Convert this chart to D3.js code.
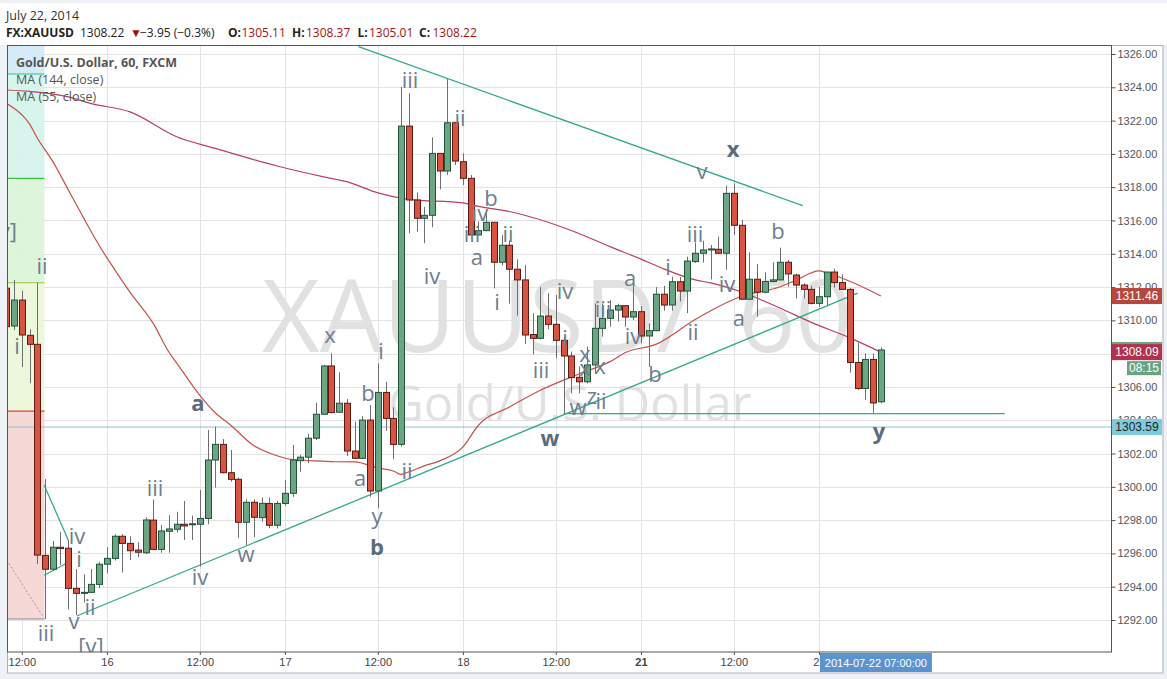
<!DOCTYPE html>
<html><head><meta charset="utf-8">
<script src="https://cdn.jsdelivr.net/npm/d3@7"></script>
<style>
body{margin:0;background:#eef2f6;}
svg{display:block;font-family:"Liberation Sans",Arial,sans-serif;}
</style>
</head><body>
<svg id="c" width="1167" height="679"></svg>
<script>
// ---------------- DATA ----------------
const opens=[1311.93,1309.66,1311.22,1309.10,1308.56,1295.88,1295.05,1296.37,1296.31,1293.90,
1293.60,1293.66,1294.14,1295.35,1295.70,1297.03,1296.60,1296.20,1296.04,1298.00,
1296.24,1297.33,1297.45,1297.75,1297.72,1297.75,1298.10,1301.61,1302.55,1300.85,
1300.45,1297.87,1299.07,1298.15,1299.00,1297.69,1299.00,1299.61,1301.57,1301.78,
1302.92,1304.36,1307.26,1304.48,1305.02,1302.15,1301.71,1304.01,1299.75,1305.67,
1304.11,1302.55,1321.67,1317.23,1316.13,1316.31,1320.03,1318.97,1321.87,1319.53,
1318.53,1315.13,1315.39,1315.89,1313.49,1314.51,1313.07,1312.43,1309.15,1308.92,
1310.26,1309.76,1308.80,1307.86,1306.58,1306.31,1307.32,1309.52,1310.12,1310.62,
1310.88,1310.20,1310.52,1309.06,1309.38,1311.57,1310.92,1312.32,1311.76,1313.53,
1314.03,1314.23,1314.27,1314.03,1317.63,1315.71,1311.27,1312.47,1311.69,1312.33,
1312.43,1313.49,1312.72,1312.12,1311.86,1311.02,1311.42,1312.90,1312.27,1311.86,
1307.47,1305.91,1307.65,1305.11];
const highs=[1312.10,1312.42,1311.78,1309.46,1312.26,1300.47,1296.75,1297.29,1296.80,1295.05,
1294.75,1295.06,1295.50,1296.37,1297.15,1297.15,1297.03,1296.67,1298.17,1299.23,
1297.71,1298.30,1298.50,1299.15,1298.27,1299.81,1303.41,1303.61,1302.87,1302.21,
1300.57,1299.25,1299.25,1299.35,1299.35,1299.15,1300.41,1302.51,1301.91,1303.18,
1305.06,1307.32,1308.02,1306.88,1305.27,1303.91,1304.25,1304.91,1307.42,1306.31,
1304.78,1324.02,1323.64,1317.69,1316.81,1321.00,1320.05,1324.50,1321.90,1320.03,
1318.73,1315.93,1316.50,1315.90,1315.13,1314.80,1313.67,1313.33,1310.43,1312.00,
1311.63,1311.52,1309.00,1308.13,1307.22,1308.42,1311.01,1311.00,1311.22,1311.00,
1310.90,1312.60,1310.86,1309.82,1312.00,1312.07,1312.63,1312.60,1313.82,1314.68,
1314.78,1314.53,1315.03,1318.09,1318.23,1316.03,1314.09,1313.39,1312.89,1313.49,
1314.37,1313.63,1312.80,1312.22,1312.07,1312.02,1312.92,1313.10,1312.77,1311.94,
1308.66,1308.02,1308.02,1308.37];
const lows=[1309.40,1309.42,1307.20,1306.22,1295.36,1292.06,1295.00,1295.30,1292.63,1292.30,
1293.06,1293.62,1293.92,1294.80,1295.57,1294.85,1295.60,1295.76,1295.96,1296.20,
1296.04,1296.04,1297.26,1296.80,1296.80,1295.20,1297.75,1299.95,1300.80,1300.31,
1296.94,1296.50,1296.97,1297.90,1297.51,1297.50,1298.87,1299.40,1300.91,1301.41,
1302.81,1304.31,1304.42,1304.45,1301.85,1301.70,1301.67,1299.40,1298.71,1303.37,
1301.65,1302.41,1315.23,1315.33,1314.63,1315.60,1317.87,1318.73,1319.33,1318.13,
1315.10,1315.10,1315.35,1311.92,1313.30,1311.00,1310.28,1308.58,1307.97,1308.86,
1309.46,1307.73,1304.41,1305.61,1305.61,1306.22,1306.82,1309.02,1309.62,1309.93,
1309.62,1310.02,1308.62,1307.22,1309.35,1310.58,1310.58,1311.13,1310.43,1313.45,
1313.47,1312.46,1314.00,1313.03,1315.13,1311.22,1311.22,1310.23,1311.63,1312.30,
1312.40,1312.02,1311.32,1311.32,1310.95,1310.80,1310.92,1311.96,1311.84,1306.86,
1305.82,1305.22,1304.45,1305.01];
const closes=[1309.62,1311.22,1309.12,1308.56,1295.90,1295.05,1296.37,1296.29,1293.90,1293.60,
1293.66,1294.14,1295.35,1295.70,1297.03,1296.60,1296.16,1296.07,1298.01,1296.24,
1297.35,1297.47,1297.75,1297.65,1297.78,1298.10,1301.61,1302.55,1300.85,1300.45,
1297.87,1299.07,1298.17,1299.01,1297.69,1299.00,1299.61,1301.61,1301.78,1302.92,
1304.36,1307.26,1304.46,1305.02,1302.15,1301.71,1304.01,1299.75,1305.67,1304.11,
1302.55,1321.67,1317.23,1316.13,1316.31,1320.03,1318.97,1321.87,1319.57,1318.53,
1315.13,1315.39,1315.89,1313.49,1314.51,1313.07,1312.43,1309.12,1308.92,1310.26,
1309.76,1308.80,1307.86,1306.56,1306.31,1307.32,1309.52,1310.12,1310.62,1310.88,
1310.20,1310.52,1309.06,1309.38,1311.57,1310.92,1312.32,1311.76,1313.56,1314.03,
1314.23,1314.29,1314.03,1317.63,1315.71,1311.27,1312.47,1311.69,1312.33,1312.43,
1313.49,1312.79,1312.12,1311.86,1311.02,1311.42,1312.90,1312.27,1311.86,1307.47,
1305.91,1307.65,1305.04,1308.22];

// moving averages: [bar index, value]
const ma144=[[0,1323.84],[3,1323.75],[8,1323.42],[11,1323.02],[16,1322.52],[22,1321.03],[27,1320.33],
[35,1319.27],[41,1318.62],[44,1318.33],[48,1317.66],[52,1317.27],[59,1317.06],[61,1316.85],[65,1316.54],
[73,1315.40],[78,1314.43],[82,1313.68],[85,1313.08],[89,1312.43],[91,1312.25],[95,1311.70],[100,1310.73],
[104,1309.88],[109,1308.95],[113,1308.09]];
const ma55=[[0,1323.04],[2,1322.35],[3,1321.8],[4,1320.95],[6,1319.55],[8,1317.85],[10,1316.14],[12,1314.5],
[14,1313.05],[16,1311.68],[19,1309.8],[21,1308.1],[22,1307.45],[25,1305.5],[27,1304.45],[29,1303.7],
[32,1302.47],[34,1302.03],[37,1301.64],[40,1301.56],[42,1301.51],[45,1301.5],[48,1301.14],[50,1300.95],
[51,1300.75],[52,1300.9],[54,1301.26],[56,1301.56],[59,1302.4],[61,1303.7],[65,1304.79],[69,1305.8],
[74,1306.78],[78,1307.52],[80,1308.07],[84,1308.57],[89,1310.05],[91,1310.58],[95,1311.45],[100,1312.02],
[102,1312.4],[105,1312.97],[106,1312.86],[110,1312.14],[113,1311.46]];

const priceTicks=[1292,1294,1296,1298,1300,1302,1304,1306,1308,1310,1312,1314,1316,1318,1320,1322,1324,1326];
const timeTicks=[2,13,25,36,48,59,71,82,94,105];
const timeTickLabels=["12:00","16","12:00","17","12:00","18","12:00","21","12:00","22"];

// drawings (bar index, price)
const trendLines=[
 [[45.5,1326.44],[102.9,1316.89]],
 [[9.1,1292.24],[110.0,1311.63]],
 [[72,1304.40],[129,1304.40]],
 [[4.9,1300.09],[8.0,1296.81]],
 [[4.9,1294.69],[7.8,1295.41]]
];
const dashedLine=[[0.05,1295.6],[4.78,1292.18]];
const bandLevels=[1327.5,1324.8,1318.53,1312.26,1304.55,1292.06];
const bandFills=["#d0eaf5","#d3f4ea","#d9f4d6","#ebf6d8","#f5d4d3"];
const bandLineColors=["#2fbf8c","#3cc63c","#92c83e","#d8433b","#8a8a8a"];
const bandEnd=4.94;
const lastLine=1303.59;

// Elliott wave labels: [text, bar index, price, bold]
const waveLabels=[
["iii",52.16,1324.50,0],["ii",58.62,1322.22,0],["x",93.89,1320.35,1],["v",89.88,1319.03,0],
["b",62.62,1317.42,0],["iv",61.2,1316.51,0],["iii",60.17,1315.25,0],["a",60.81,1313.87,0],
["ii",64.82,1315.25,0],["i",63.4,1311.16,0],["iv",55.0,1312.72,0],["iii",69.08,1307.08,0],
["iv",72.19,1311.82,0],["i",72.19,1309.0,0],["iii",77.1,1310.74,0],["a",80.6,1312.6,0],
["iv",80.97,1309.12,0],["b",83.8,1306.84,0],["i",85.5,1313.27,0],["ii",88.72,1309.36,0],
["iii",88.98,1315.25,0],["iv",93.11,1312.24,0],["a",94.66,1310.2,0],["b",99.7,1315.43,0],
["y",112.75,1303.41,1],["w",70.25,1302.99,1],["x",74.77,1308.04,0],["x",74.77,1307.2,0],
["x",76.7,1307.32,0],["w",73.86,1304.86,0],["z",75.67,1305.52,0],["ii",76.83,1305.22,0],
["a",24.77,1305.1,1],["iv",25.02,1294.64,0],["w",30.97,1296.02,0],["iii",19.21,1299.99,0],
["x",41.82,1309.18,0],["i",48.41,1308.22,0],["b",46.73,1305.7,0],["a",45.7,1300.59,0],
["y",47.89,1298.31,0],["b",47.89,1296.45,1],["ii",51.77,1301.01,0],["i",1.38,1308.52,0],
["ii",4.61,1313.33,0],["iv",9.13,1297.11,0],["i",9.39,1295.72,0],["v",8.75,1292.0,0],
["ii",10.81,1292.84,0],["[v]",10.94,1290.5,0],["iii",5.13,1291.28,0]
];
const edgeLabel=["[v]",1.38,1315.43];

// ---------------- CHART ----------------
const W=1167,H=679,L=7,T=46,R=1111,B=652;
const svg=d3.select("#c");
const x=d3.scaleLinear().domain([0,113]).range([6.3,880.9]);
const y=d3.scaleLinear().domain([1292,1326]).range([620,54]);

svg.append("rect").attr("width",W).attr("height",H).attr("fill","#eef2f6");
svg.append("rect").attr("x",0).attr("y",3).attr("width",W).attr("height",42).attr("fill","#fff");
svg.append("rect").attr("x",7.5).attr("y",45.5).attr("width",1155.5).attr("height",627.5)
  .attr("fill","#fff").attr("stroke","#aab2ba");

svg.append("defs").append("clipPath").attr("id","plot").append("rect")
  .attr("x",L).attr("y",T).attr("width",R-L).attr("height",B-T);

const g=svg.append("g").attr("clip-path","url(#plot)");

// grid
g.selectAll(".hg").data(priceTicks).join("line")
  .attr("x1",L).attr("x2",R).attr("y1",d=>Math.round(y(d))+0.5).attr("y2",d=>Math.round(y(d))+0.5)
  .attr("stroke","#e3e3e3");
g.selectAll(".vg").data(timeTicks).join("line")
  .attr("y1",T).attr("y2",B).attr("x1",d=>Math.round(x(d))+0.5).attr("x2",d=>Math.round(x(d))+0.5)
  .attr("stroke","#e3e3e3");

// bands at left
bandFills.forEach((f,i)=>{
  g.append("rect").attr("x",x(-1)).attr("width",x(bandEnd)-x(-1))
   .attr("y",y(bandLevels[i])).attr("height",y(bandLevels[i+1])-y(bandLevels[i]))
   .attr("fill",f).attr("opacity",0.9);
});
bandLevels.slice(1).forEach((lv,i)=>{
  g.append("line").attr("x1",x(-1)).attr("x2",x(bandEnd)).attr("y1",y(lv)).attr("y2",y(lv))
   .attr("stroke",bandLineColors[i]).attr("stroke-width",1.2);
});

// watermark
const wm=g.append("text").attr("y",352).attr("font-size",100).attr("fill","#e1e1e1")
  .attr("font-family","Open Sans, sans-serif");
wm.append("tspan").attr("x",262).text("XAUUSD/");
wm.append("tspan").attr("x",738).text("60");
g.append("text").attr("x",570).attr("y",421).attr("text-anchor","middle")
  .attr("font-size",49).attr("fill","#e1e1e1").attr("font-family","Open Sans, sans-serif")
  .text("Gold/U.S. Dollar");

// last-value horizontal line
g.append("line").attr("x1",L).attr("x2",R).attr("y1",y(lastLine)).attr("y2",y(lastLine))
  .attr("stroke","#86c6d6").attr("stroke-width",1);

// MAs
const maLine=d3.line().x(d=>x(d[0])).y(d=>y(d[1])).curve(d3.curveMonotoneX);
g.append("path").attr("d",maLine(ma144)).attr("fill","none").attr("stroke","#bd3f5c").attr("stroke-width",1.2);
g.append("path").attr("d",maLine(ma55)).attr("fill","none").attr("stroke","#c4514a").attr("stroke-width",1.2);

// trend lines
const ln=d3.line().x(d=>x(d[0])).y(d=>y(d[1]));
trendLines.forEach(t=>g.append("path").attr("d",ln(t)).attr("fill","none")
  .attr("stroke","#32a98e").attr("stroke-width",1.3));
g.append("path").attr("d",ln(dashedLine)).attr("fill","none").attr("stroke","#999")
  .attr("stroke-width",1).attr("stroke-dasharray","2,2");

// candles
const idx=d3.range(opens.length);
g.selectAll(".wick").data(idx).join("line")
  .attr("x1",i=>Math.round(x(i))+0.5).attr("x2",i=>Math.round(x(i))+0.5)
  .attr("y1",i=>y(highs[i])).attr("y2",i=>y(lows[i]))
  .attr("stroke","#6e6e70").attr("stroke-width",1);
g.selectAll(".body").data(idx).join("rect")
  .attr("x",i=>Math.round(x(i))-2.5).attr("width",6)
  .attr("y",i=>y(Math.max(opens[i],closes[i])))
  .attr("height",i=>Math.max(1,Math.abs(y(opens[i])-y(closes[i]))))
  .attr("fill",i=>closes[i]>=opens[i]?"#6ba583":"#d75442")
  .attr("stroke",i=>closes[i]>=opens[i]?"#225437":"#5b1a13").attr("stroke-width",1);

// wave labels
g.selectAll(".wl").data(waveLabels).join("text")
  .attr("x",d=>x(d[1])).attr("y",d=>y(d[2])).attr("text-anchor","middle")
  .attr("dominant-baseline","central")
  .attr("font-family","Open Sans, sans-serif")
  .attr("font-size",22).attr("font-weight",d=>d[3]?700:400)
  .attr("fill",d=>d[3]?"#5c6c7c":"#6c7e8f").text(d=>d[0]);
g.append("text").attr("x",x(edgeLabel[1])).attr("y",y(edgeLabel[2])).attr("text-anchor","end")
  .attr("dominant-baseline","central").attr("font-family","Open Sans, sans-serif")
  .attr("font-size",22).attr("fill","#6c7e8f").text(edgeLabel[0]);

// plot border
svg.append("rect").attr("x",L+0.5).attr("y",T-0.5).attr("width",R-L).attr("height",B-T+0.5)
  .attr("fill","none").attr("stroke","#555");

// price axis
const ya=svg.append("g").attr("transform",`translate(${R+0.5},0)`)
  .call(d3.axisRight(y).tickValues(priceTicks).tickFormat(d3.format(".2f")).tickSize(4).tickPadding(2));
ya.select(".domain").remove();
ya.selectAll("line").attr("stroke","#555");
ya.selectAll("text").attr("fill","#555").attr("font-size",11).attr("font-family","Liberation Sans, Arial");

// time axis
const xa=svg.append("g").attr("transform",`translate(0,${B})`)
  .call(d3.axisBottom(x).tickValues(timeTicks).tickFormat((d,i)=>timeTickLabels[i]).tickSize(3).tickPadding(3));
xa.select(".domain").remove();
xa.selectAll("line").attr("stroke","#555");
xa.selectAll("text").attr("fill","#444").attr("font-size",11).attr("font-family","Liberation Sans, Arial")
  .attr("font-weight",d=>d===82?700:400);

// price tags
function tag(v,fill,txt,color,x0,w){
  const yy=y(v);
  svg.append("rect").attr("x",x0).attr("y",yy-8).attr("width",w).attr("height",16).attr("fill",fill);
  svg.append("text").attr("x",x0+w/2).attr("y",yy).attr("dominant-baseline","central")
    .attr("text-anchor","middle").attr("font-size",12).attr("fill",color).text(txt);
}
tag(1311.46,"#b7463d","1311.46","#fff",R+1,50);
tag(closes[113],"#6ba583","1308.22","#fff",R+1,50);
tag(1308.09,"#b3314f","1308.09","#fff",R+1,50);
svg.append("rect").attr("x",1127).attr("y",y(1308.09)+9).attr("width",34).attr("height",14).attr("fill","#6aa37f");
svg.append("text").attr("x",1144).attr("y",y(1308.09)+16).attr("dominant-baseline","central")
  .attr("text-anchor","middle").attr("font-size",12).attr("fill","#fff").text("08:15");
tag(lastLine,"#7fcadb","1303.59","#222",R+1,50);

// date tag
const lx=x(113);
svg.append("rect").attr("x",lx-61).attr("y",B+1).attr("width",112).attr("height",19).attr("fill","#5b93cf");
svg.append("text").attr("x",lx-5).attr("y",B+11).attr("dominant-baseline","central").attr("text-anchor","middle")
  .attr("font-size",11).attr("fill","#fff").text("2014-07-22 07:00:00");

// header
const hf="Open Sans, sans-serif";
svg.append("text").attr("x",6).attr("y",20).attr("font-family",hf).attr("font-size",12.5).attr("fill","#333").text("July 22, 2014");
const hdr=[["FX:XAUUSD",6,700,"#222"],["1308.22",80,400,"#222"],["▼",130,400,"#a01010"],["\u22123.95 (\u22120.3%)",140,400,"#222"],
["O:",228,700,"#222"],["1305.11",241.5,400,"#a31515"],["H:",292,700,"#222"],["1308.37",306,400,"#a31515"],
["L:",357.5,700,"#222"],["1305.01",369,400,"#a31515"],["C:",419,700,"#222"],["1308.22",432.5,400,"#a31515"]];
hdr.forEach(h=>svg.append("text").attr("x",h[1]).attr("y",37).attr("font-family",hf).attr("font-size",12)
  .attr("font-weight",h[2]).attr("fill",h[3]).text(h[0]));

// legend
svg.append("text").attr("x",16).attr("y",67).attr("font-family",hf).attr("font-size",12.5).attr("font-weight",700)
  .attr("fill","#555").text("Gold/U.S. Dollar, 60, FXCM");
svg.append("text").attr("x",16).attr("y",84).attr("font-family",hf).attr("font-size",12.5).attr("fill","#555").text("MA (144, close)");
svg.append("text").attr("x",16).attr("y",101).attr("font-family",hf).attr("font-size",12.5).attr("fill","#555").text("MA (55, close)");
</script>
</body></html>
